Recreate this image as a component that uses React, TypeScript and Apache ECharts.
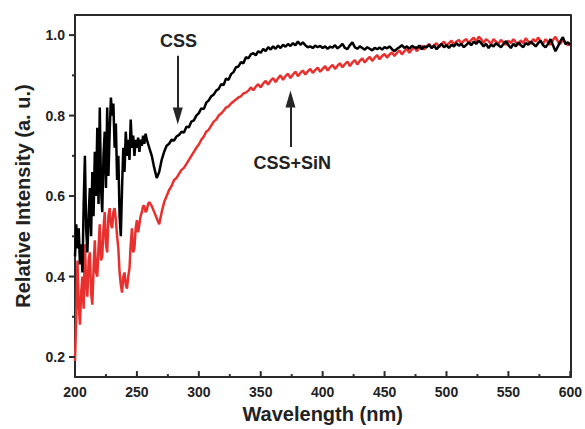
import React, { useEffect, useRef } from "react";
import * as echarts from "echarts";

// Wavelength grid (nm): 200–260 in 1 nm steps, then 262–600 in 2 nm steps
const fineStart = 200;
const fineStep = 1;
const coarseStart = 262;
const coarseStep = 2;

const xTickLabels = ["200", "250", "300", "350", "400", "450", "500", "550", "600"];
const xMinorTickValues = [225, 275, 325, 375, 425, 475, 525, 575];
const yTickValues = [0.2, 0.4, 0.6, 0.8, 1.0];
const yMinorTickValues = [0.3, 0.5, 0.7, 0.9];

// CSS (black), 200–260 nm at 1 nm
const cssFine = [
  0.45, 0.53, 0.47, 0.52, 0.43, 0.48, 0.41, 0.58, 0.70, 0.52,
  0.46, 0.55, 0.62, 0.50, 0.66, 0.55, 0.71, 0.60, 0.77, 0.58,
  0.82, 0.62, 0.56, 0.70, 0.76, 0.62, 0.82, 0.65, 0.76, 0.845,
  0.80, 0.83, 0.72, 0.78, 0.64, 0.70, 0.55, 0.50, 0.62, 0.72,
  0.66, 0.76, 0.70, 0.74, 0.69, 0.79, 0.72, 0.75, 0.70, 0.74,
  0.72, 0.745, 0.71, 0.74, 0.725, 0.75, 0.73, 0.755, 0.74, 0.73,
  0.72,
];
// CSS (black), 262–600 nm at 2 nm
const cssCoarse = [
  0.70, 0.67, 0.645, 0.66, 0.69, 0.71, 0.725, 0.73, 0.74, 0.738,
  0.748, 0.752, 0.76, 0.758, 0.772, 0.771, 0.785, 0.788, 0.80, 0.806,
  0.818, 0.816, 0.832, 0.838, 0.848, 0.852, 0.862, 0.866, 0.878, 0.876,
  0.892, 0.889, 0.903, 0.908, 0.92, 0.922, 0.933, 0.93, 0.945, 0.942,
  0.952, 0.955, 0.95, 0.96, 0.956, 0.966, 0.96, 0.97, 0.964, 0.972,
  0.966, 0.974, 0.968, 0.976, 0.971, 0.978, 0.973, 0.98, 0.975, 0.984,
  0.976, 0.982, 0.975, 0.97, 0.972, 0.968, 0.974, 0.97, 0.973, 0.968,
  0.972, 0.966, 0.971, 0.969, 0.975, 0.967, 0.972, 0.978, 0.968, 0.965,
  0.975, 0.982, 0.97, 0.966, 0.972, 0.968, 0.964, 0.97, 0.966, 0.962,
  0.968, 0.965, 0.969, 0.964, 0.97, 0.967, 0.972, 0.965, 0.96, 0.966,
  0.97, 0.975, 0.968, 0.972, 0.966, 0.973, 0.97, 0.968, 0.974, 0.965,
  0.972, 0.97, 0.976, 0.968, 0.974, 0.965, 0.972, 0.978, 0.97, 0.975,
  0.968, 0.976, 0.972, 0.98, 0.974, 0.978, 0.97, 0.976, 0.982, 0.975,
  0.984, 0.978, 0.986, 0.98, 0.972, 0.978, 0.968, 0.976, 0.972, 0.98,
  0.975, 0.97, 0.978, 0.985, 0.975, 0.968, 0.978, 0.972, 0.982, 0.975,
  0.97, 0.98, 0.976, 0.984, 0.978, 0.972, 0.98, 0.986, 0.975, 0.97,
  0.978, 0.99, 0.975, 0.96, 0.972, 0.985, 0.995, 0.978, 0.982, 0.976,
];

// CSS+SiN (red), 200–260 nm at 1 nm
const cssSinFine = [
  0.19, 0.30, 0.44, 0.33, 0.28, 0.36, 0.40, 0.32, 0.48, 0.38,
  0.35, 0.44, 0.46, 0.36, 0.33, 0.42, 0.49, 0.41, 0.40, 0.47,
  0.53, 0.44, 0.45, 0.52, 0.56, 0.48, 0.46, 0.55, 0.57, 0.53,
  0.52, 0.56, 0.57, 0.54, 0.50, 0.47, 0.41, 0.38, 0.36, 0.40,
  0.41, 0.38, 0.37, 0.40, 0.42, 0.48, 0.52, 0.46, 0.47, 0.52,
  0.54, 0.51, 0.53, 0.55, 0.56, 0.575, 0.575, 0.56, 0.565, 0.58,
  0.585,
];
// CSS+SiN (red), 262–600 nm at 2 nm
const cssSinCoarse = [
  0.575, 0.56, 0.545, 0.53, 0.56, 0.585, 0.60, 0.615, 0.625,
  0.64, 0.645, 0.655, 0.665, 0.67, 0.68, 0.69, 0.70, 0.71, 0.72,
  0.728, 0.74, 0.748, 0.76, 0.765, 0.775, 0.785, 0.79, 0.80, 0.805,
  0.812, 0.82, 0.823, 0.83, 0.835, 0.84, 0.845, 0.848, 0.855, 0.857,
  0.862, 0.87, 0.863, 0.872, 0.878, 0.87, 0.88, 0.886, 0.877, 0.887,
  0.893, 0.883, 0.893, 0.9, 0.889, 0.898, 0.904, 0.893, 0.902, 0.909,
  0.898, 0.906, 0.912, 0.902, 0.91, 0.916, 0.906, 0.913, 0.919, 0.909,
  0.916, 0.923, 0.912, 0.92, 0.926, 0.916, 0.924, 0.93, 0.92, 0.928,
  0.934, 0.923, 0.932, 0.938, 0.927, 0.936, 0.942, 0.932, 0.94, 0.946,
  0.936, 0.944, 0.95, 0.94, 0.948, 0.953, 0.944, 0.952, 0.957, 0.948,
  0.956, 0.962, 0.952, 0.96, 0.966, 0.956, 0.964, 0.97, 0.96, 0.968,
  0.974, 0.964, 0.972, 0.978, 0.968, 0.975, 0.98, 0.97, 0.978, 0.984,
  0.974, 0.98, 0.986, 0.976, 0.984, 0.988, 0.978, 0.986, 0.99, 0.98,
  0.988, 0.994, 0.984, 0.996, 0.99, 0.98, 0.99, 0.985, 0.978, 0.99,
  0.984, 0.978, 0.988, 0.982, 0.976, 0.986, 0.98, 0.99, 0.982, 0.976,
  0.987, 0.98, 0.992, 0.984, 0.978, 0.99, 0.984, 0.994, 0.985, 0.978,
  0.99, 0.982, 0.976, 0.988, 0.996, 0.984, 0.978, 0.99, 0.982, 0.975,
  0.98,
];

// Annotations (data coordinates)
const cssLabel = { name: "CSS", at: [283.5, 0.985] };
const cssArrow = { from: [283, 0.949], to: [283, 0.799] };
const sinLabel = { name: "CSS+SiN", at: [375.5, 0.683] };
const sinArrow = { from: [374, 0.722], to: [374, 0.841] };

const FONT = "'Liberation Sans', Arial, sans-serif";
const AXIS_COLOR = "#2a2a2a";
const X_MIN = 200;
const Y_MIN = 0.15;

function toPairs(fine: number[], coarse: number[]) {
  const a = fine.map((v, i) => [fineStart + i * fineStep, v]);
  const b = coarse.map((v, i) => [coarseStart + i * coarseStep, v]);
  return a.concat(b);
}

export default function App() {
  const ref = useRef<HTMLDivElement>(null);

  useEffect(() => {
    if (!ref.current) return;
    const chart = echarts.init(ref.current, null, { renderer: "svg" });
    const arrowStyle = { color: "#262626", width: 2, type: "solid" as const };
    const frameAxis = {
      axisLine: { show: true, onZero: false, lineStyle: { color: AXIS_COLOR, width: 2 } },
      axisTick: { show: false },
      axisLabel: { show: false },
      splitLine: { show: false },
    };

    // Tick marks drawn through the axes' own scales (value -> pixel via api.coord)
    const yTickData = yTickValues
      .map((v) => [X_MIN, v, 6])
      .concat(yMinorTickValues.map((v) => [X_MIN, v, 3]));
    const xTickData = xTickLabels
      .map((s) => [Number(s), Y_MIN, 6])
      .concat(xMinorTickValues.map((v) => [v, Y_MIN, 3]));

    const option = {
      animation: false,
      backgroundColor: "#ffffff",
      grid: { left: 75, right: 13, top: 15, bottom: 44 },
      xAxis: [
        {
          type: "value",
          min: 200,
          max: 600,
          interval: 50,
          position: "bottom",
          name: "Wavelength (nm)",
          nameLocation: "middle",
          nameGap: 15,
          nameTextStyle: { fontFamily: FONT, fontWeight: "bold", fontSize: 20, color: "#222" },
          axisLine: { show: true, onZero: false, lineStyle: { color: AXIS_COLOR, width: 2 } },
          axisTick: { show: false },
          minorTick: { show: false },
          splitLine: { show: false },
          axisLabel: {
            margin: 8,
            fontFamily: FONT,
            fontWeight: "bold",
            fontSize: 14,
            color: "#222",
            formatter: (v: number) => xTickLabels[Math.round((v - 200) / 50)] ?? "",
          },
        },
        { type: "value", min: 200, max: 600, position: "top", ...frameAxis },
      ],
      yAxis: [
        {
          type: "value",
          min: 0.15,
          max: 1.05,
          position: "left",
          name: "Relative Intensity (a. u.)",
          nameLocation: "middle",
          nameGap: 42,
          nameTextStyle: { fontFamily: FONT, fontWeight: "bold", fontSize: 20, color: "#222" },
          axisLine: { show: true, onZero: false, lineStyle: { color: AXIS_COLOR, width: 2 } },
          axisTick: { show: false },
          splitLine: { show: false },
          axisLabel: {
            margin: 10,
            fontFamily: FONT,
            fontWeight: "bold",
            fontSize: 14,
            color: "#222",
            customValues: yTickValues,
            formatter: (v: number) => v.toFixed(1),
          },
        },
        { type: "value", min: 0.15, max: 1.05, position: "right", ...frameAxis },
      ],
      series: [
        {
          name: "CSS+SiN",
          type: "line",
          data: toPairs(cssSinFine, cssSinCoarse),
          showSymbol: false,
          lineStyle: { color: "#e8312f", width: 2.5 },
          itemStyle: { color: "#e8312f" },
          z: 2,
        },
        {
          name: "CSS",
          type: "line",
          data: toPairs(cssFine, cssCoarse),
          showSymbol: false,
          lineStyle: { color: "#000000", width: 2.5 },
          itemStyle: { color: "#000000" },
          z: 3,
          markLine: {
            silent: true,
            symbol: ["none", "triangle"],
            symbolSize: [10, 17],
            label: { show: false },
            lineStyle: arrowStyle,
            data: [
              [{ coord: cssArrow.from }, { coord: cssArrow.to }],
              [{ coord: sinArrow.from }, { coord: sinArrow.to }],
            ],
          },
          markPoint: {
            silent: true,
            symbol: "circle",
            symbolSize: 0,
            label: {
              show: true,
              position: "inside",
              formatter: "{b}",
              fontFamily: FONT,
              fontWeight: "bold",
              fontSize: 18,
              color: "#222",
            },
            data: [
              { name: cssLabel.name, coord: cssLabel.at },
              { name: sinLabel.name, coord: sinLabel.at },
            ],
          },
        },
        {
          name: "yTicks",
          type: "custom",
          silent: true,
          clip: false,
          z: 5,
          data: yTickData,
          renderItem: (_params: any, api: any) => {
            const p = api.coord([api.value(0), api.value(1)]);
            const len = api.value(2);
            return {
              type: "line",
              shape: { x1: p[0] - len, y1: p[1], x2: p[0], y2: p[1] },
              style: { stroke: AXIS_COLOR, lineWidth: 2 },
            };
          },
        },
        {
          name: "xTicks",
          type: "custom",
          silent: true,
          clip: false,
          z: 5,
          data: xTickData,
          renderItem: (_params: any, api: any) => {
            const p = api.coord([api.value(0), api.value(1)]);
            const len = api.value(2);
            return {
              type: "line",
              shape: { x1: p[0], y1: p[1], x2: p[0], y2: p[1] - len },
              style: { stroke: AXIS_COLOR, lineWidth: 2 },
            };
          },
        },
      ],
    };
    chart.setOption(option as any);
    return () => chart.dispose();
  }, []);

  return (
    <div
      ref={ref}
      style={{ position: "fixed", left: 0, top: 0, width: 585, height: 429, background: "#fff" }}
    />
  );
}
